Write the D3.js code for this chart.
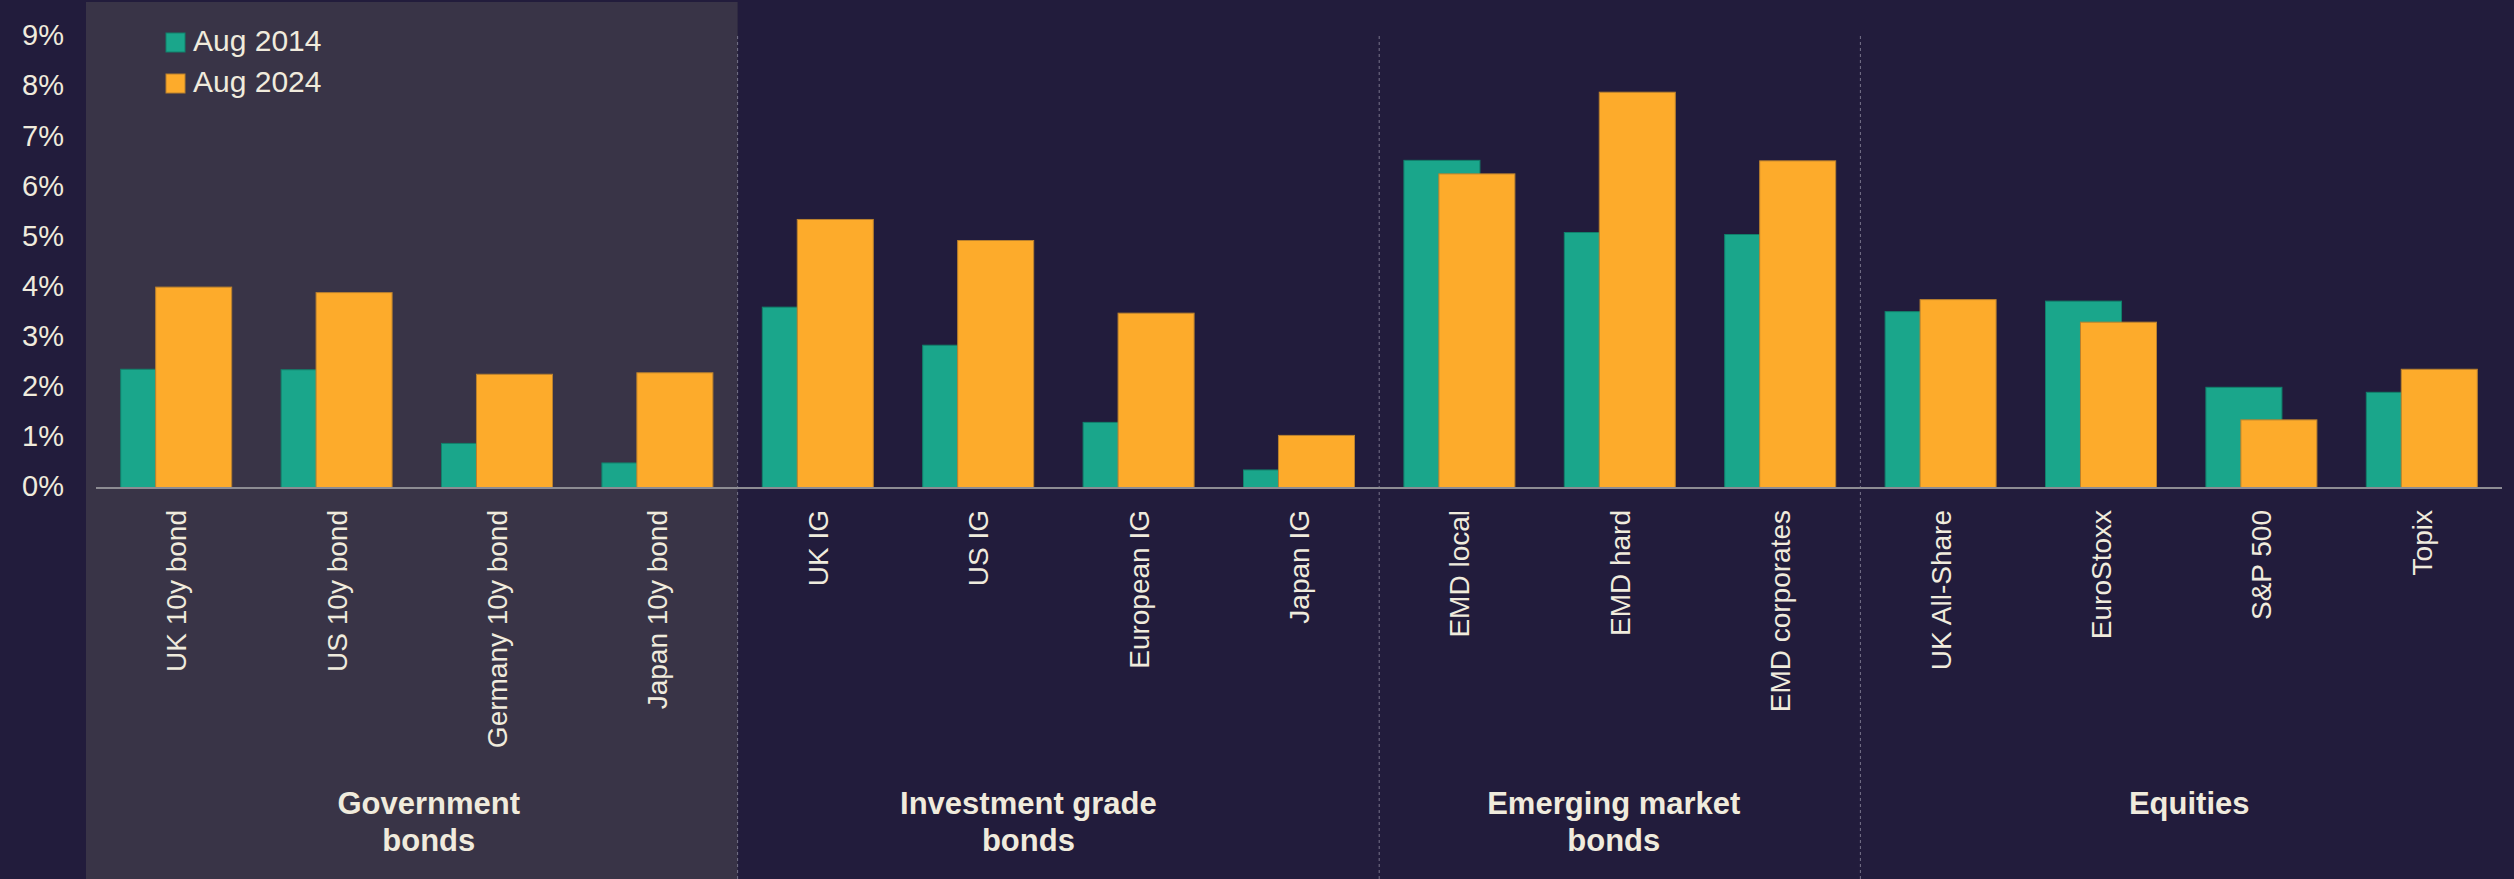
<!DOCTYPE html>
<html>
<head>
<meta charset="utf-8">
<script src="https://cdn.jsdelivr.net/npm/d3@7"></script>
<style>
  body { margin: 0; background: #221c3c; }
  svg { display: block; }
  text { font-family: "Liberation Sans", Arial, sans-serif; fill: #f0ebdd; }
</style>
</head>
<body>
<script>
// chart data
var categories = ["UK 10y bond", "US 10y bond", "Germany 10y bond", "Japan 10y bond",
                  "UK IG", "US IG", "European IG", "Japan IG",
                  "EMD local", "EMD hard", "EMD corporates",
                  "UK All-Share", "EuroStoxx", "S&P 500", "Topix"]
var groupOf = [0, 0, 0, 0, 1, 1, 1, 1, 2, 2, 2, 3, 3, 3, 3]
var groupNames = [["Government", "bonds"], ["Investment grade", "bonds"], ["Emerging market", "bonds"], ["Equities"]]
var seriesNames = ["Aug 2014", "Aug 2024"]
var aug2014 = [2.37, 2.36, 0.89, 0.50, 3.61, 2.85, 1.31, 0.36, 6.54, 5.10, 5.06, 3.52, 3.73, 2.01, 1.91]
var aug2024 = [4.01, 3.90, 2.27, 2.30, 5.36, 4.94, 3.49, 1.05, 6.27, 7.90, 6.53, 3.76, 3.31, 1.36, 2.37]
var yTicks = [0, 1, 2, 3, 4, 5, 6, 7, 8, 9]

var W = 2514, H = 879
var colors = ["#1aa68b", "#fdab2b"]
var strokes = ["#11806b", "#b9802e"]
var groupShift = [12, -30, -6, 8]   // hand nudges of the group titles

var svg = d3.select("body").append("svg").attr("width", W).attr("height", H)
svg.append("rect").attr("width", W).attr("height", H).attr("fill", "#221c3c")

var x = d3.scaleBand().domain(categories).range([96, 2502]).paddingInner(0.308).paddingOuter(0.154)
var y = d3.scaleLinear().domain([0, 9]).range([488, 37.1])
var bw = x.bandwidth()
var barW = bw * 0.685
var gap = (x.step() - bw) / 2

// group boundaries (first category of each group after the first)
var dividers = []
for (var i = 1; i < categories.length; i++) {
    if (groupOf[i] != groupOf[i - 1]) dividers.push(x(categories[i]) - gap)
}

// shaded panel behind government bonds
svg.append("rect")
    .attr("x", x.range()[0] - 10).attr("y", 2)
    .attr("width", dividers[0] - x.range()[0] + 10).attr("height", H - 2)
    .attr("fill", "#393447")

svg.selectAll("line.div")
    .data(dividers)
    .enter().append("line")
    .attr("x1", function(d) { return d }).attr("x2", function(d) { return d })
    .attr("y1", 36).attr("y2", H)
    .attr("stroke", "#77738a").attr("stroke-width", 1).attr("stroke-dasharray", "3,3")

// y axis labels only
var yAxis = d3.axisLeft(y).tickValues(yTicks).tickFormat(function(d) { return d + "%" }).tickSize(0).tickPadding(0)
var gy = svg.append("g").attr("transform", "translate(64,-1.5)").call(yAxis)
gy.select(".domain").remove()
gy.selectAll("text").style("font-size", "29px").attr("fill", "#f0ebdd").style("font-family", "Liberation Sans, Arial, sans-serif")

// bars
var series = [aug2014, aug2024]
series.forEach(function(vals, s) {
    svg.append("g").selectAll("rect")
        .data(vals)
        .enter().append("rect")
        .attr("x", function(d, i) { return x(categories[i]) + s * (bw - barW) })
        .attr("y", function(d) { return y(d) })
        .attr("width", barW)
        .attr("height", function(d) { return y(0) - y(d) })
        .attr("fill", colors[s])
        .attr("stroke", strokes[s]).attr("stroke-width", 1)
})

// baseline
svg.append("line")
    .attr("x1", x.range()[0]).attr("x2", x.range()[1])
    .attr("y1", y(0)).attr("y2", y(0))
    .attr("stroke", "#8d8c93").attr("stroke-width", 2)

// rotated category labels
var xAxis = d3.axisBottom(x).tickSize(0).tickPadding(0)
var gx = svg.append("g").attr("transform", "translate(0,510)").call(xAxis)
gx.select(".domain").remove()
gx.selectAll("text")
    .attr("transform", "rotate(-90)")
    .attr("x", 0).attr("y", 0).attr("dy", "0.36em")
    .attr("text-anchor", "end")
    .attr("fill", "#f0ebdd")
    .style("font-size", "28px").style("font-family", "Liberation Sans, Arial, sans-serif")

// group titles
groupNames.forEach(function(lines, g) {
    var cats = categories.filter(function(c, i) { return groupOf[i] == g })
    var cx = d3.mean(cats, function(c) { return x(c) + bw / 2 }) + groupShift[g]
    var t = svg.append("text")
        .attr("x", cx).attr("y", 814)
        .attr("text-anchor", "middle")
        .style("font-size", "31px").style("font-weight", "bold")
    lines.forEach(function(l, k) {
        t.append("tspan").attr("x", cx).attr("dy", k == 0 ? 0 : 36.5).text(l)
    })
})

// legend
var leg = svg.append("g").attr("transform", "translate(166,33)")
seriesNames.forEach(function(n, s) {
    leg.append("rect").attr("x", 0).attr("y", s * 41).attr("width", 19).attr("height", 19)
        .attr("fill", colors[s]).attr("stroke", strokes[s]).attr("stroke-width", 1)
    leg.append("text").attr("x", 27).attr("y", s * 41 + 18).text(n)
        .style("font-size", "30px")
})
</script>
</body>
</html>
